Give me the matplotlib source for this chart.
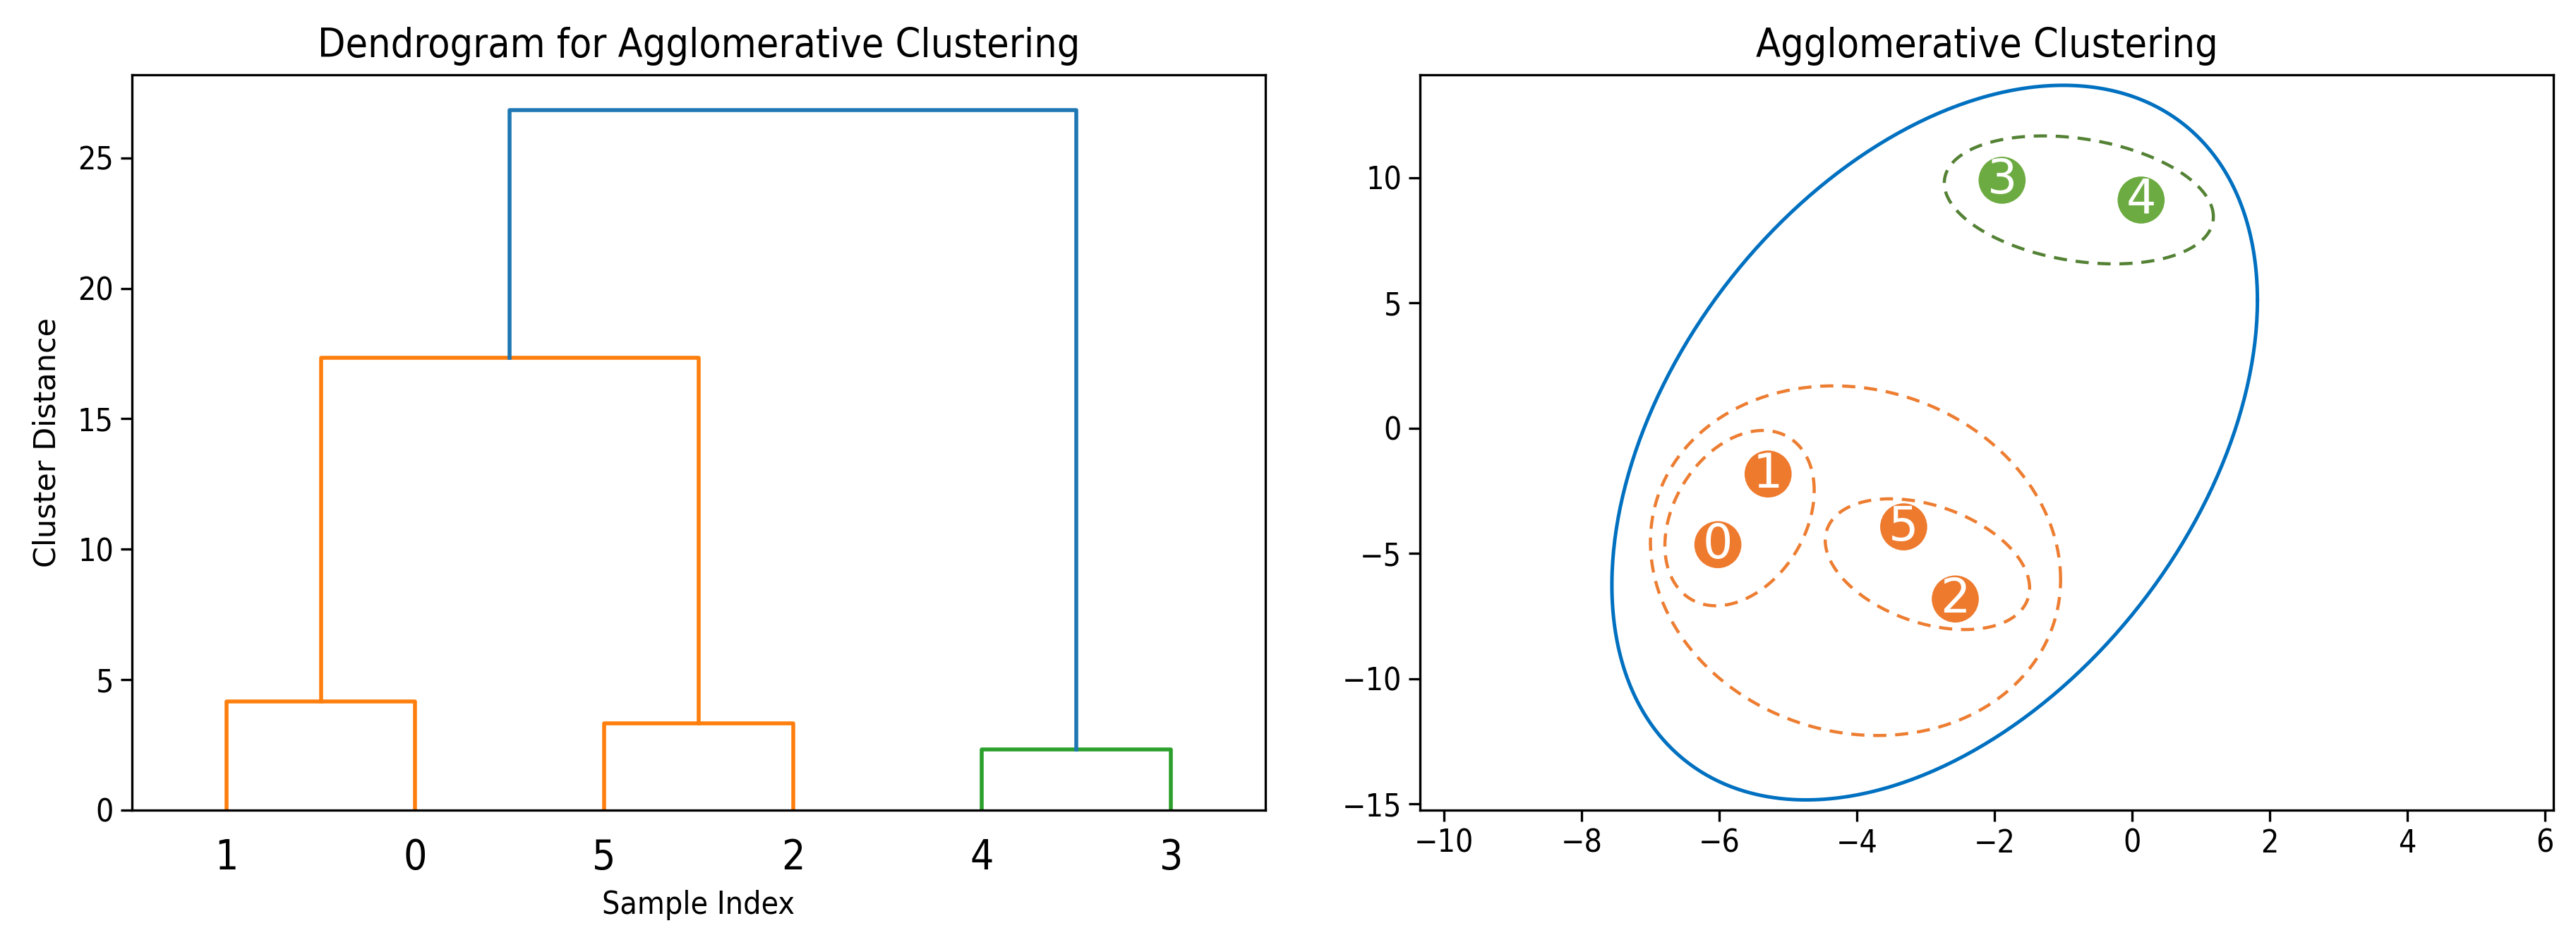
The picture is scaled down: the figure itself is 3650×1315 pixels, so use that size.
import numpy as np
import matplotlib.pyplot as plt

plt.rcParams['font.family'] = ['DejaVu Sans']
plt.rcParams['font.stretch'] = 'condensed'

# dendrogram data (leaf order left to right, merges in order)
leaf_labels = ['1', '0', '5', '2', '4', '3']
merge_left = [0, 2, 4, 6, 9]
merge_right = [1, 3, 5, 7, 8]
merge_height = [4.16, 3.32, 2.32, 17.33, 26.84]
merge_color = ['C1', 'C1', 'C2', 'C1', 'C0']

# sample points for the scatter panel
point_labels = ['0', '1', '2', '3', '4', '5']
point_x = [-6.02, -5.29, -2.57, -1.89, 0.13, -3.32]
point_y = [-4.65, -1.83, -6.82, 9.90, 9.11, -3.94]
point_color = ['#EE7A2E', '#EE7A2E', '#EE7A2E', '#6CAB41', '#6CAB41', '#EE7A2E']

# cluster outlines: centre, half-extent in x / y, and skew (cos of phase)
ell_cx = [-2.87, -0.775, -4.02, -5.705, -2.975]
ell_cy = [-0.575, 9.115, -5.29, -3.59, -5.43]
ell_ax = [4.69, 1.955, 2.98, 1.085, 1.485]
ell_by = [14.265, 2.555, 6.98, 3.5, 2.61]
ell_skew = [0.3985, -0.264, -0.107, 0.314, -0.364]
ell_color = ['#0070C0', '#548235', '#ED7D31', '#ED7D31', '#ED7D31']
ell_dashed = [False, True, True, True, True]

fig = plt.figure(figsize=(18.25, 6.575), dpi=200)
ax1 = fig.add_axes([0.0512, 0.1270, 0.4400, 0.7924])
ax2 = fig.add_axes([0.5512, 0.1270, 0.4400, 0.7924])

# ---- dendrogram ----
node_x = [5 + 10 * i for i in range(len(leaf_labels))]
node_h = [0.0] * len(leaf_labels)
for l, r, h, c in zip(merge_left, merge_right, merge_height, merge_color):
    xl, xr = node_x[l], node_x[r]
    ax1.plot([xl, xl, xr, xr], [node_h[l], h, h, node_h[r]], color=c, lw=2.0)
    node_x.append((xl + xr) / 2)
    node_h.append(h)

ax1.set_xlim(0, 10 * len(leaf_labels))
ax1.set_ylim(0, max(merge_height) * 1.05)
ax1.set_xticks([5 + 10 * i for i in range(len(leaf_labels))])
ax1.set_xticklabels(leaf_labels, fontsize=21)
ax1.tick_params(axis='x', length=0, pad=14)
ax1.tick_params(axis='y', labelsize=16, length=5.8, width=1.2)
ax1.set_title('Dendrogram for Agglomerative Clustering', fontsize=20.5, pad=9)
ax1.set_xlabel('Sample Index', fontsize=16, labelpad=6)
ax1.set_ylabel('Cluster Distance', fontsize=15.5, fontstretch='normal', labelpad=8)

# ---- scatter with cluster outlines ----
t = np.linspace(0, 2 * np.pi, 400)
for cx, cy, a, b, s, c, d in zip(ell_cx, ell_cy, ell_ax, ell_by, ell_skew, ell_color, ell_dashed):
    phi = np.arccos(s)
    ex = cx + a * np.cos(t)
    ey = cy + b * np.cos(t - phi)
    if d:
        ax2.plot(ex, ey, color=c, lw=1.6, dashes=(4.2, 2.8))
    else:
        ax2.plot(ex, ey, color=c, lw=1.8)

ax2.scatter(point_x, point_y, s=24 ** 2, c=point_color, zorder=3, linewidths=0)
for lab, x, y in zip(point_labels, point_x, point_y):
    ax2.text(x, y, lab, color='white', fontsize=24, ha='center', va='center',
             fontstretch='normal', zorder=4)

ax2.set_xlim(-10.35, 6.12)
ax2.set_ylim(-15.25, 14.11)
ax2.set_xticks(np.arange(-10, 7, 2))
ax2.set_yticks(np.arange(-15, 11, 5))
ax2.tick_params(labelsize=16, length=5.8, width=1.2)
ax2.set_title('Agglomerative Clustering', fontsize=20.5, pad=9)

for ax in (ax1, ax2):
    for sp in ax.spines.values():
        sp.set_linewidth(1.2)

fig.savefig('out.png', dpi=200)
